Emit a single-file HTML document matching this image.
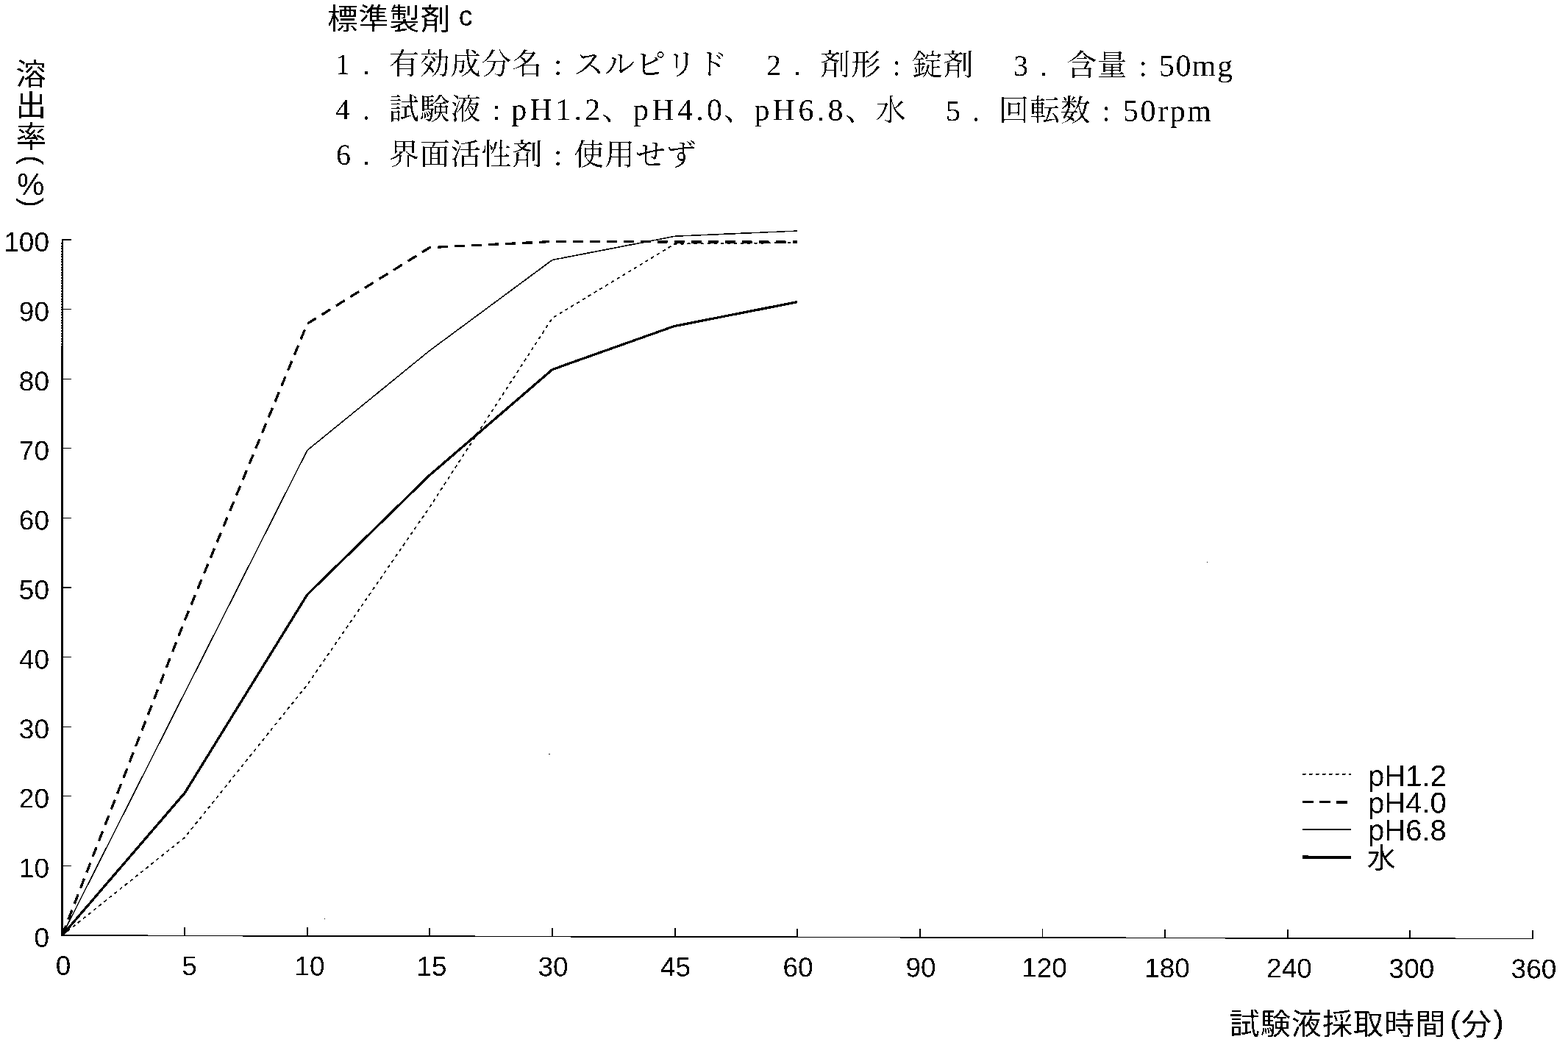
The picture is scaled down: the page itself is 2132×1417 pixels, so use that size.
<!DOCTYPE html>
<html lang="ja"><head><meta charset="utf-8"><title>標準製剤c 溶出曲線</title>
<style>
html,body{margin:0;padding:0;background:#fff;}
body{width:2132px;height:1417px;overflow:hidden;font-family:"Liberation Sans",sans-serif;}
svg{display:block;}
</style></head><body>
<svg width="2132" height="1417" viewBox="0 0 2132 1417">
<defs>
<filter id="bw" filterUnits="userSpaceOnUse" x="0" y="0" width="2132" height="1417" color-interpolation-filters="sRGB"><feComponentTransfer><feFuncA type="discrete" tableValues="0 1"/></feComponentTransfer></filter>
</defs>
<rect width="2132" height="1417" fill="#fff"/>
<g filter="url(#bw)"><g transform="matrix(1,0.00225,0,1,0,0)">
<g fill="none" stroke="#000" shape-rendering="crispEdges">
<path d="M84.8,324.91 V470" stroke-width="2.5" shape-rendering="auto"/>
<path d="M84.5,470 V1272.81" stroke-width="2.9"/>
<path d="M83.5,330 V470" stroke-width="1" stroke-dasharray="2 1.6"/>
<path d="M83.5,1271.91 H2085" stroke-width="1.7"/>
<path d="M85.5,1177.21h11M85.5,1082.61h11M85.5,988.01h11M85.5,893.41h11M85.5,798.81h11M85.5,704.21h11M85.5,609.61h11M85.5,515.01h11M85.5,420.41h11M85.5,325.81h11" stroke-width="1.3"/>
<path d="M251.12,1271.81v-11.5M417.75,1271.81v-11.5M584.38,1271.81v-11.5M751,1271.81v-11.5M917.62,1271.81v-11.5M1084.25,1271.81v-11.5M1250.88,1271.81v-11.5M1417.5,1271.81v-11.5M1584.12,1271.81v-11.5M1750.75,1271.81v-11.5M1917.38,1271.81v-11.5M2084,1271.81v-11.5" stroke-width="1.8"/>
</g>
<g fill="none" stroke="#000" stroke-linejoin="round">
<path d="M84.5,1271.81 L251.12,1138.42 L417.75,930.3 L584.38,688.13 L751,430.82 L917.62,329.59 L1084.25,327.7" stroke-width="1.8" stroke-dasharray="4.5 4.6"/>
<path d="M84.5,1271.81 L251.12,843.27 L417.75,439.33 L584.38,335.27 L751,326.76 L917.62,326.76 L1084.25,326.76" stroke-width="3.3" stroke-dasharray="14 9"/>
<path d="M84.5,1271.81 L251.12,941.66 L417.75,611.5 L584.38,475.28 L751,351.82 L917.62,319.19 L1084.25,311.62" stroke-width="1.6"/>
<path d="M84.5,1271.81 L251.12,1077.88 L417.75,807.7 L584.38,644.61 L751,500.82 L917.62,441.22 L1084.25,408.11" stroke-width="3.3"/>
<path d="M1771,1048.82 h66.2" stroke-width="1.8" stroke-dasharray="4.5 4.5"/>
<path d="M1771,1086.52 h66.2" stroke-width="3.6" stroke-dasharray="15 8"/>
<path d="M1771,1124.02 h66.2" stroke-width="1.8"/>
<path d="M1771,1161.82 h66.2" stroke-width="4.4"/>
</g>
<rect x="746" y="1023.32" width="2" height="1" fill="#000"/>
<rect x="1641" y="760.31" width="1" height="1" fill="#000"/>
<rect x="441" y="1248.01" width="1" height="1" fill="#000"/>
<g fill="#000" stroke="none" id="labels">
<g font-family="&quot;Liberation Sans&quot;, &quot;Noto Sans CJK JP&quot;, sans-serif">
<text x="445.2" y="39.2" font-size="41" letter-spacing="1.2" text-anchor="start">標準製剤</text>
<text x="633.2" y="33" font-size="38" text-anchor="middle">c</text>
</g>
<g font-family="&quot;Liberation Serif&quot;, &quot;Noto Serif CJK SC&quot;, serif">
<text x="456" y="99.7" font-size="40">1</text>
<text x="493" y="99.7" font-size="40">.</text>
<text x="529" y="99.7" font-size="41" letter-spacing="0.86">有効成分名</text>
<text x="758.8" y="99.7" font-size="41" text-anchor="middle">:</text>
<text x="780.2" y="99.7" font-size="41" letter-spacing="0.86">スルピリド</text>
<text x="1042" y="99.7" font-size="40">2</text>
<text x="1079" y="99.7" font-size="40">.</text>
<text x="1115" y="99.7" font-size="41" letter-spacing="0.86">剤形</text>
<text x="1219.3" y="99.7" font-size="41" text-anchor="middle">:</text>
<text x="1240.6" y="99.7" font-size="41" letter-spacing="0.86">錠剤</text>
<text x="1378" y="99.7" font-size="40">3</text>
<text x="1414" y="99.7" font-size="40">.</text>
<text x="1449.9" y="99.7" font-size="41" letter-spacing="0.86">含量</text>
<text x="1554.1" y="99.7" font-size="41" text-anchor="middle">:</text>
<text x="1576" y="99.7" font-size="42" textLength="100" lengthAdjust="spacing">50mg</text>
<text x="456" y="161.2" font-size="40">4</text>
<text x="493" y="161.2" font-size="40">.</text>
<text x="529" y="161.2" font-size="41" letter-spacing="0.86">試験液</text>
<text x="675.1" y="161.2" font-size="41" text-anchor="middle">:</text>
<text x="695.3" y="161.2" font-size="42" textLength="121" lengthAdjust="spacing">pH1.2</text>
<text x="818.6" y="161.2" font-size="41">、</text>
<text x="861" y="161.2" font-size="42" textLength="121" lengthAdjust="spacing">pH4.0</text>
<text x="983.5" y="161.2" font-size="41">、</text>
<text x="1025.6" y="161.2" font-size="42" textLength="121" lengthAdjust="spacing">pH6.8</text>
<text x="1148.8" y="161.2" font-size="41">、</text>
<text x="1190.6" y="161.2" font-size="41">水</text>
<text x="1286" y="161.2" font-size="40">5</text>
<text x="1322" y="161.2" font-size="40">.</text>
<text x="1358.1" y="161.2" font-size="41" letter-spacing="0.86">回転数</text>
<text x="1504.2" y="161.2" font-size="41" text-anchor="middle">:</text>
<text x="1527" y="161.2" font-size="42" textLength="120" lengthAdjust="spacing">50rpm</text>
<text x="457" y="222.7" font-size="40">6</text>
<text x="493" y="222.7" font-size="40">.</text>
<text x="529" y="222.7" font-size="41" letter-spacing="0.86">界面活性剤</text>
<text x="758.8" y="222.7" font-size="41" text-anchor="middle">:</text>
<text x="780.2" y="222.7" font-size="41" letter-spacing="0.86">使用せず</text>
</g>
<g font-family="&quot;Liberation Sans&quot;, &quot;Noto Sans CJK JP&quot;, sans-serif">
<text x="21.55" y="115.42" font-size="41.5">溶</text>
<text x="21.55" y="158.12" font-size="41.5">出</text>
<text x="21.55" y="200.62" font-size="41.5">率</text>
<text transform="translate(42,217.51) rotate(90)" x="0" y="12" font-size="40" text-anchor="middle">(</text>
<text x="41.8" y="265" font-size="42" text-anchor="middle">%</text>
<text transform="translate(42,275.31) rotate(90)" x="0" y="12" font-size="40" text-anchor="middle">)</text>
<text x="67" y="1287.66" font-size="37" text-anchor="end">0</text>
<text x="67" y="1193.06" font-size="37" text-anchor="end">10</text>
<text x="67" y="1098.46" font-size="37" text-anchor="end">20</text>
<text x="67" y="1003.86" font-size="37" text-anchor="end">30</text>
<text x="67" y="909.26" font-size="37" text-anchor="end">40</text>
<text x="67" y="814.66" font-size="37" text-anchor="end">50</text>
<text x="67" y="720.06" font-size="37" text-anchor="end">60</text>
<text x="67" y="625.46" font-size="37" text-anchor="end">70</text>
<text x="67" y="530.86" font-size="37" text-anchor="end">80</text>
<text x="67" y="436.26" font-size="37" text-anchor="end">90</text>
<text x="67" y="341.66" font-size="37" text-anchor="end">100</text>
<text x="86" y="1325.5" font-size="37" text-anchor="middle">0</text>
<text x="257.5" y="1325.5" font-size="37" text-anchor="middle">5</text>
<text x="421" y="1325.5" font-size="37" text-anchor="middle">10</text>
<text x="587" y="1325.5" font-size="37" text-anchor="middle">15</text>
<text x="752" y="1325.5" font-size="37" text-anchor="middle">30</text>
<text x="918.5" y="1325.5" font-size="37" text-anchor="middle">45</text>
<text x="1085" y="1325.5" font-size="37" text-anchor="middle">60</text>
<text x="1252" y="1325.5" font-size="37" text-anchor="middle">90</text>
<text x="1420" y="1325.5" font-size="37" text-anchor="middle">120</text>
<text x="1587" y="1325.5" font-size="37" text-anchor="middle">180</text>
<text x="1753" y="1325.5" font-size="37" text-anchor="middle">240</text>
<text x="1919.5" y="1325.5" font-size="37" text-anchor="middle">300</text>
<text x="2085.5" y="1325.5" font-size="37" text-anchor="middle">360</text>
<text x="1671.7" y="1403.04" font-size="41" letter-spacing="1.1" text-anchor="start">試験液採取時間</text>
<text x="1978.4" y="1400" font-size="43" text-anchor="middle">(</text>
<text x="1986.8" y="1403.24" font-size="41.5" text-anchor="start">分</text>
<text x="2037.6" y="1400" font-size="43" text-anchor="middle">)</text>
<text x="1860" y="1064.41" font-size="40" text-anchor="start">pH1.2</text>
<text x="1860" y="1101.22" font-size="40" text-anchor="start">pH4.0</text>
<text x="1860" y="1138.41" font-size="40" text-anchor="start">pH6.8</text>
<text x="1858.7" y="1176.6" font-size="39" text-anchor="start">水</text>
</g>
</g>
</g></g>
</svg>
</body></html>
